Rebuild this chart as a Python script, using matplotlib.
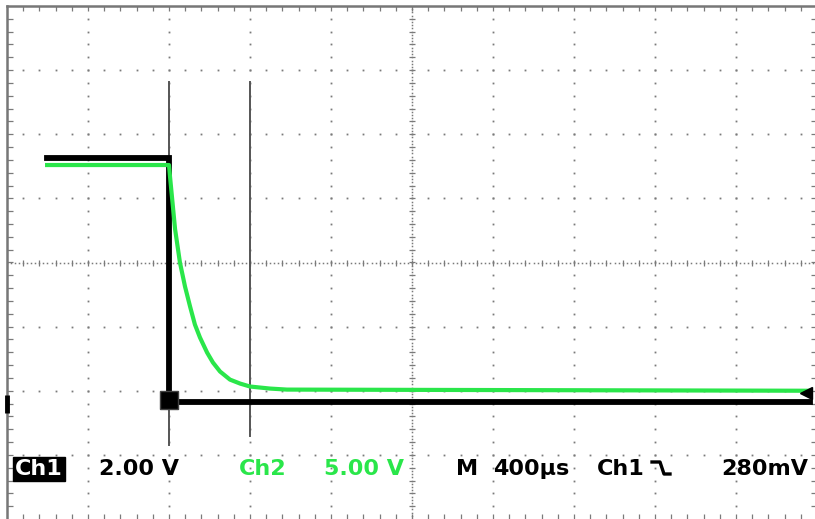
import matplotlib
matplotlib.use('Agg')
import matplotlib.pyplot as plt
from matplotlib.lines import Line2D
import numpy as np

# ---- scope settings ----
time_per_div = 400.0      # µs / div
trigger_div = 2.0         # trigger position, divisions from left edge
ch1_volts_per_div = 2.0
ch2_volts_per_div = 5.0
ch1_offset_div = -2.17    # ground level of Ch1 on screen (div)
ch2_offset_div = -2.0     # ground level of Ch2 on screen (div)
trigger_level = 0.28      # V on Ch1

# ---- Ch1 trace (time µs relative to trigger, volts) ----
ch1_t = [-602, 0, 0, 3165]
ch1_v = [7.6, 7.6, 0.0, 0.0]

# ---- Ch2 trace (time µs, volts) ----
ch2_t = [-602, 0, 5, 30, 54, 79, 104, 128, 153, 188, 217, 252, 301, 351, 400, 499, 583, 3165]
ch2_v = [17.6, 17.6, 16.7, 12.6, 10.0, 8.13, 6.57, 5.16, 4.15, 2.98, 2.20, 1.50,
         0.87, 0.56, 0.33, 0.17, 0.09, 0.0]

# ---- cursors (time µs, top/bottom in div) ----
cursor_t = [0, 400]
cursor_top = [2.82, 2.82]
cursor_bottom = [-2.84, -2.71]

# ---- readout text ----
ch1_label = "Ch1"
ch1_scale_label = "2.00 V"
ch2_label = "Ch2"
ch2_scale_label = "5.00 V"
time_label_m = "M"
time_label = "400µs"
trig_src_label = "Ch1"
trig_level_label = "280mV"

GREEN = '#2ae64a'
GRID = '#7a7a7a'

W, H = 815, 519
fig = plt.figure(figsize=(W / 100, H / 100), dpi=100)
fig.patch.set_facecolor('white')
ax = fig.add_axes([7 / W, 0, 810 / W, 513 / H])
x0 = -trigger_div * time_per_div
x1 = (10 - trigger_div) * time_per_div
ax.set_xlim(x0, x1)
ax.set_ylim(-4, 4)
ax.axis('off')


def div_to_t(d):
    return (np.asarray(d) - trigger_div) * time_per_div


minor_y = np.arange(-3.8, 3.81, 0.2)
minor_x = np.arange(0.2, 9.81, 0.2)

# graticule dots
for vx in [1, 2, 3, 4, 6, 7, 8, 9]:
    ax.plot(np.full_like(minor_y, div_to_t(vx)), minor_y, 's', ms=1.3, color=GRID, mew=0, zorder=1)
for hy in [-3, -2, -1, 1, 2, 3]:
    ax.plot(div_to_t(minor_x), np.full_like(minor_x, hy), 's', ms=1.3, color=GRID, mew=0, zorder=1)

# center lines
dense_x = np.arange(0, 10.001, 0.05)
dense_y = np.arange(-4, 4.001, 0.05)
ax.plot(div_to_t(dense_x), np.zeros_like(dense_x), 's', ms=1.1, color=GRID, mew=0, zorder=1)
ax.plot(np.full_like(dense_y, div_to_t(5)), dense_y, 's', ms=1.1, color=GRID, mew=0, zorder=1)
ax.plot(div_to_t(minor_x), np.zeros_like(minor_x), '|', ms=5, color=GRID, mew=0.9, zorder=1)
ax.plot(np.full_like(minor_y, div_to_t(5)), minor_y, '_', ms=5, color=GRID, mew=0.9, zorder=1)

# edge ticks
ax.plot(np.full_like(minor_y, x0), minor_y, '_', ms=8, color=GRID, mew=0.9, zorder=1)
ax.plot(np.full_like(minor_y, x1), minor_y, '_', ms=8, color=GRID, mew=0.9, zorder=1)
ax.plot(div_to_t(minor_x), np.full_like(minor_x, 4), '|', ms=7, color=GRID, mew=0.9, zorder=1)
ax.plot(div_to_t(minor_x), np.full_like(minor_x, -4), '|', ms=7, color=GRID, mew=0.9, zorder=1)

# frame (top and left)
ax.plot([x0, x1], [4, 4], color='#777777', lw=1.8, clip_on=False, zorder=2)
ax.plot([x0, x0], [-4, 4], color='#777777', lw=1.8, clip_on=False, zorder=2)

# cursors
for t, top, bot in zip(cursor_t, cursor_top, cursor_bottom):
    ax.plot([t, t], [bot, top], color='#555555', lw=1.4, zorder=2)

# traces
ch1_div = np.asarray(ch1_v) / ch1_volts_per_div + ch1_offset_div
ch2_div = np.asarray(ch2_v) / ch2_volts_per_div + ch2_offset_div
ax.plot(ch1_t, ch1_div, color='black', lw=4.2, solid_joinstyle='miter', zorder=3)
ax.plot(ch2_t, ch2_div, color=GREEN, lw=3.0, zorder=4)

# markers
ax.plot([0], [ch1_offset_div + 0.03], 's', ms=13.5, color='black', mec='#444444', mew=1, zorder=5)
ax.plot([x1 - 55], [trigger_level / ch1_volts_per_div + ch1_offset_div], '<', ms=9,
        color='black', zorder=5, clip_on=False)
ax.plot([x0], [ch1_offset_div - 0.04], '|', ms=13, mew=3.5, color='black', clip_on=False, zorder=5)

# readout text
base_y = 1 - 475 / H
font = dict(family='DejaVu Sans', weight='bold', size=16)
fig.text(15 / W, base_y, ch1_label, color='white', va='baseline', ha='left',
         bbox=dict(facecolor='black', edgecolor='black', pad=1.5), **font)
fig.text(99 / W, base_y, ch1_scale_label, color='black', va='baseline', ha='left', **font)
fig.text(239 / W, base_y, ch2_label, color=GREEN, va='baseline', ha='left', **font)
fig.text(324 / W, base_y, ch2_scale_label, color=GREEN, va='baseline', ha='left', **font)
fig.text(456 / W, base_y, time_label_m, color='black', va='baseline', ha='left', **font)
fig.text(493 / W, base_y, time_label, color='black', va='baseline', ha='left', **font)
fig.text(597 / W, base_y, trig_src_label, color='black', va='baseline', ha='left', **font)
fig.text(721 / W, base_y, trig_level_label, color='black', va='baseline', ha='left', **font)

# falling-edge trigger symbol
sx = np.array([652, 660, 664, 670]) / W
sy = 1 - np.array([462, 462, 474, 474]) / H
fig.add_artist(Line2D(sx, sy, transform=fig.transFigure, color='black', lw=2.4))

fig.savefig('out.png', dpi=100, facecolor='white')
